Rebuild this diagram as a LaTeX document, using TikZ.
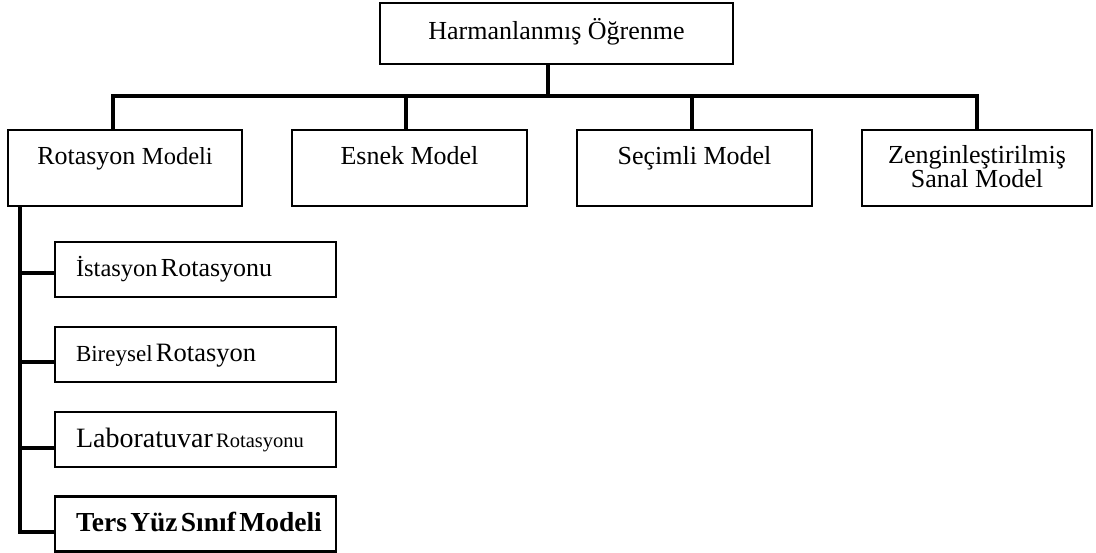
\documentclass[tikz,border=0pt]{standalone}
\usepackage{fontspec}
\setmainfont{Liberation Serif}
\pgfdeclarelayer{edgelayer}
\pgfdeclarelayer{nodelayer}
\pgfsetlayers{nodelayer,main,edgelayer}
\newcommand{\fsz}[1]{\fontsize{#1}{#1}\selectfont}

\begin{document}
\begin{tikzpicture}[x=1pt, y=-1pt,
	box/.style={draw, line width=2.3pt, inner sep=0pt},
	topbox/.style={box, anchor=north, minimum height=76, text height=34, text depth=42, font={\fsz{26}}},
	subbox/.style={box, inner xsep=21, text width=239, align=left, minimum height=55, text height=20, text depth=5},
	link/.style={line width=3.4pt}]
	\useasboundingbox (0,0) rectangle (1096,553);
	\begin{pgfonlayer}{nodelayer}
		\node [box, minimum width=353, minimum height=61, text height=20, text depth=7, font={\fsz{26}}] (0) at (556.5,33.5) {Harmanlanmış Öğrenme};
		\node [topbox, minimum width=234] (1) at (125,129) {Rotasyon {\fsz{24.5}Modeli}};
		\node [topbox, minimum width=235] (2) at (409.5,129) {Esnek Model};
		\node [topbox, minimum width=235] (3) at (694.5,129) {Seçimli Model};
		\node [topbox, minimum width=230, text height=33] (4) at (977,129) {\vtop{\baselineskip=23.5pt\lineskiplimit=-\maxdimen\halign{\hfil#\hfil\cr Zenginleştirilmiş\cr Sanal Model\cr}}};
		\node [subbox] (5) at (195.5,269.5) {\mbox{\fsz{24.5}İstasyon \fsz{26}Rotasyonu}};
		\node [subbox] (6) at (195.5,354.5) {\mbox{\fsz{23}Bireysel \fsz{26.5}Rotasyon}};
		\node [subbox] (7) at (195.5,439.5) {\mbox{\fsz{28}Laboratuvar \fsz{20.5}Rotasyonu}};
		\node [subbox] (8) at (195.5,524) {\mbox{\fsz{27.5}\bfseries Ters Yüz Sınıf Modeli}};
		\coordinate (h0) at (548,96);
		\coordinate (h1) at (113,96);
		\coordinate (h2) at (406,96);
		\coordinate (h3) at (692,96);
		\coordinate (h4) at (977,96);
		\coordinate (t1) at (20,273);
		\coordinate (t2) at (20,362);
		\coordinate (t3) at (20,448);
		\coordinate (t4) at (20,532);
	\end{pgfonlayer}
	\begin{pgfonlayer}{edgelayer}
		\draw [link] (0.south -| h0) to (h0);
		\draw [link] (1.north -| h1) -- (h1) -- (h4) -- (4.north -| h4);
		\draw [link] (h2) to (2.north -| h2);
		\draw [link] (h3) to (3.north -| h3);
		\draw [link] (1.south -| t1) -- (t4) -- (t4 -| 8.west);
		\draw [link] (t1) to (t1 -| 5.west);
		\draw [link] (t2) to (t2 -| 6.west);
		\draw [link] (t3) to (t3 -| 7.west);
	\end{pgfonlayer}
\end{tikzpicture}
\end{document}
